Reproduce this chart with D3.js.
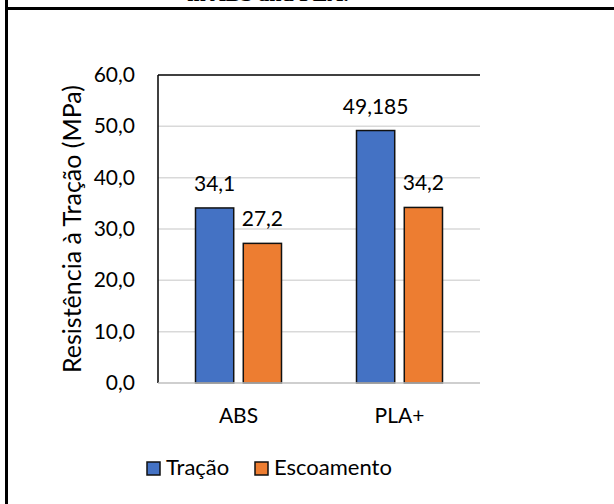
<!DOCTYPE html>
<html>
<head>
<meta charset="utf-8">
<script src="https://cdn.jsdelivr.net/npm/d3@7"></script>
<style>
  body { margin: 0; background: #fff; }
  svg { display: block; }
  text { font-family: Lato, "Open Sans", sans-serif; fill: #000; }
</style>
</head>
<body>
<svg id="chart" width="614" height="504"></svg>
<script>
const categories = ["ABS", "PLA+"];
const series = ["Tração", "Escoamento"];
const tracao = [34.1, 49.185];
const escoamento = [27.2, 34.2];
const valueLabels = [["34,1", "49,185"], ["27,2", "34,2"]];
const yTicks = [0, 10, 20, 30, 40, 50, 60];
const colors = ["#4472C4", "#ED7D31"];

const svg = d3.select("#chart");
const margin = { left: 158, right: 134, top: 75, bottom: 121 };
const width = 614, height = 504;

// table cell borders + caption clipped by the page top
svg.append("text")
  .attr("x", 268).attr("y", 0.5)
  .attr("text-anchor", "middle")
  .style("font-family", "'Liberation Serif', serif")
  .style("font-weight", "bold")
  .style("font-size", "22px")
  .text("in ABS and PLA.");
svg.append("rect").attr("x", 5).attr("y", 7).attr("width", width - 5).attr("height", 3).attr("fill", "#000");
svg.append("rect").attr("x", 5).attr("y", 0).attr("width", 3).attr("height", height).attr("fill", "#000");

const x0 = d3.scaleBand()
  .domain(categories)
  .range([margin.left, width - margin.right]);
const x1 = d3.scaleBand()
  .domain(series)
  .range([0, 86])
  .paddingInner(0.2);
const y = d3.scaleLinear()
  .domain([0, 60])
  .range([height - margin.bottom, margin.top]);

// gridlines
svg.append("g")
  .selectAll("line")
  .data(yTicks.filter(d => d > 0 && d < 60))
  .join("line")
  .attr("x1", margin.left).attr("x2", width - margin.right)
  .attr("y1", d => y(d)).attr("y2", d => y(d))
  .attr("stroke", "#d9d9d9").attr("stroke-width", 1.5);

// frame: top and left dark, bottom grey axis
svg.append("line")
  .attr("x1", margin.left).attr("x2", width - margin.right)
  .attr("y1", y(60)).attr("y2", y(60))
  .attr("stroke", "#000").attr("stroke-width", 1.5);
svg.append("line")
  .attr("x1", margin.left).attr("x2", margin.left)
  .attr("y1", y(60)).attr("y2", y(0))
  .attr("stroke", "#000").attr("stroke-width", 1.5);

const data = categories.map((c, i) => ({
  cat: c,
  vals: [tracao[i], escoamento[i]],
  labels: [valueLabels[0][i], valueLabels[1][i]]
}));

const groups = svg.append("g").selectAll("g")
  .data(data)
  .join("g")
  .attr("transform", d => `translate(${x0(d.cat) + x0.bandwidth() / 2 - 43},0)`);

groups.selectAll("rect")
  .data(d => d.vals.map((v, j) => ({ s: series[j], v, j })))
  .join("rect")
  .attr("x", d => x1(d.s))
  .attr("y", d => y(d.v))
  .attr("width", x1.bandwidth())
  .attr("height", d => y(0) - y(d.v))
  .attr("fill", d => colors[d.j])
  .attr("stroke", "#111").attr("stroke-width", 1.5);

groups.selectAll("text")
  .data(d => d.vals.map((v, j) => ({ s: series[j], v, l: d.labels[j] })))
  .join("text")
  .attr("x", d => x1(d.s) + x1.bandwidth() / 2)
  .attr("y", d => y(d.v) - 17)
  .attr("text-anchor", "middle")
  .style("font-size", "21px")
  .text(d => d.l);

// x axis line
svg.append("line")
  .attr("x1", margin.left).attr("x2", width - margin.right)
  .attr("y1", y(0)).attr("y2", y(0))
  .attr("stroke", "#bfbfbf").attr("stroke-width", 1.5);

// y tick labels
svg.append("g").selectAll("text")
  .data(yTicks)
  .join("text")
  .attr("x", 135)
  .attr("y", d => y(d) + 7)
  .attr("text-anchor", "end")
  .style("font-size", "21px")
  .text(d => d3.format(".1f")(d).replace(".", ","));

// category labels
svg.append("g").selectAll("text")
  .data(categories)
  .join("text")
  .attr("x", d => x0(d) + x0.bandwidth() / 2)
  .attr("y", 423)
  .attr("text-anchor", "middle")
  .style("font-size", "21px")
  .text(d => d);

// y title
svg.append("text")
  .attr("transform", `translate(81,${(y(0) + y(60)) / 2}) rotate(-90)`)
  .attr("text-anchor", "middle")
  .style("font-size", "25px")
  .text("Resistência à Tração (MPa)");

// legend
const legendX = [147, 255];
const legend = svg.append("g").selectAll("g")
  .data(series)
  .join("g")
  .attr("transform", (d, i) => `translate(${legendX[i]},462)`);
legend.append("rect")
  .attr("width", 13).attr("height", 13)
  .attr("fill", (d, i) => colors[i])
  .attr("stroke", "#111").attr("stroke-width", 1.5);
legend.append("text")
  .attr("x", 19).attr("y", 13)
  .style("font-size", "22px")
  .text(d => d);
</script>
</body>
</html>
